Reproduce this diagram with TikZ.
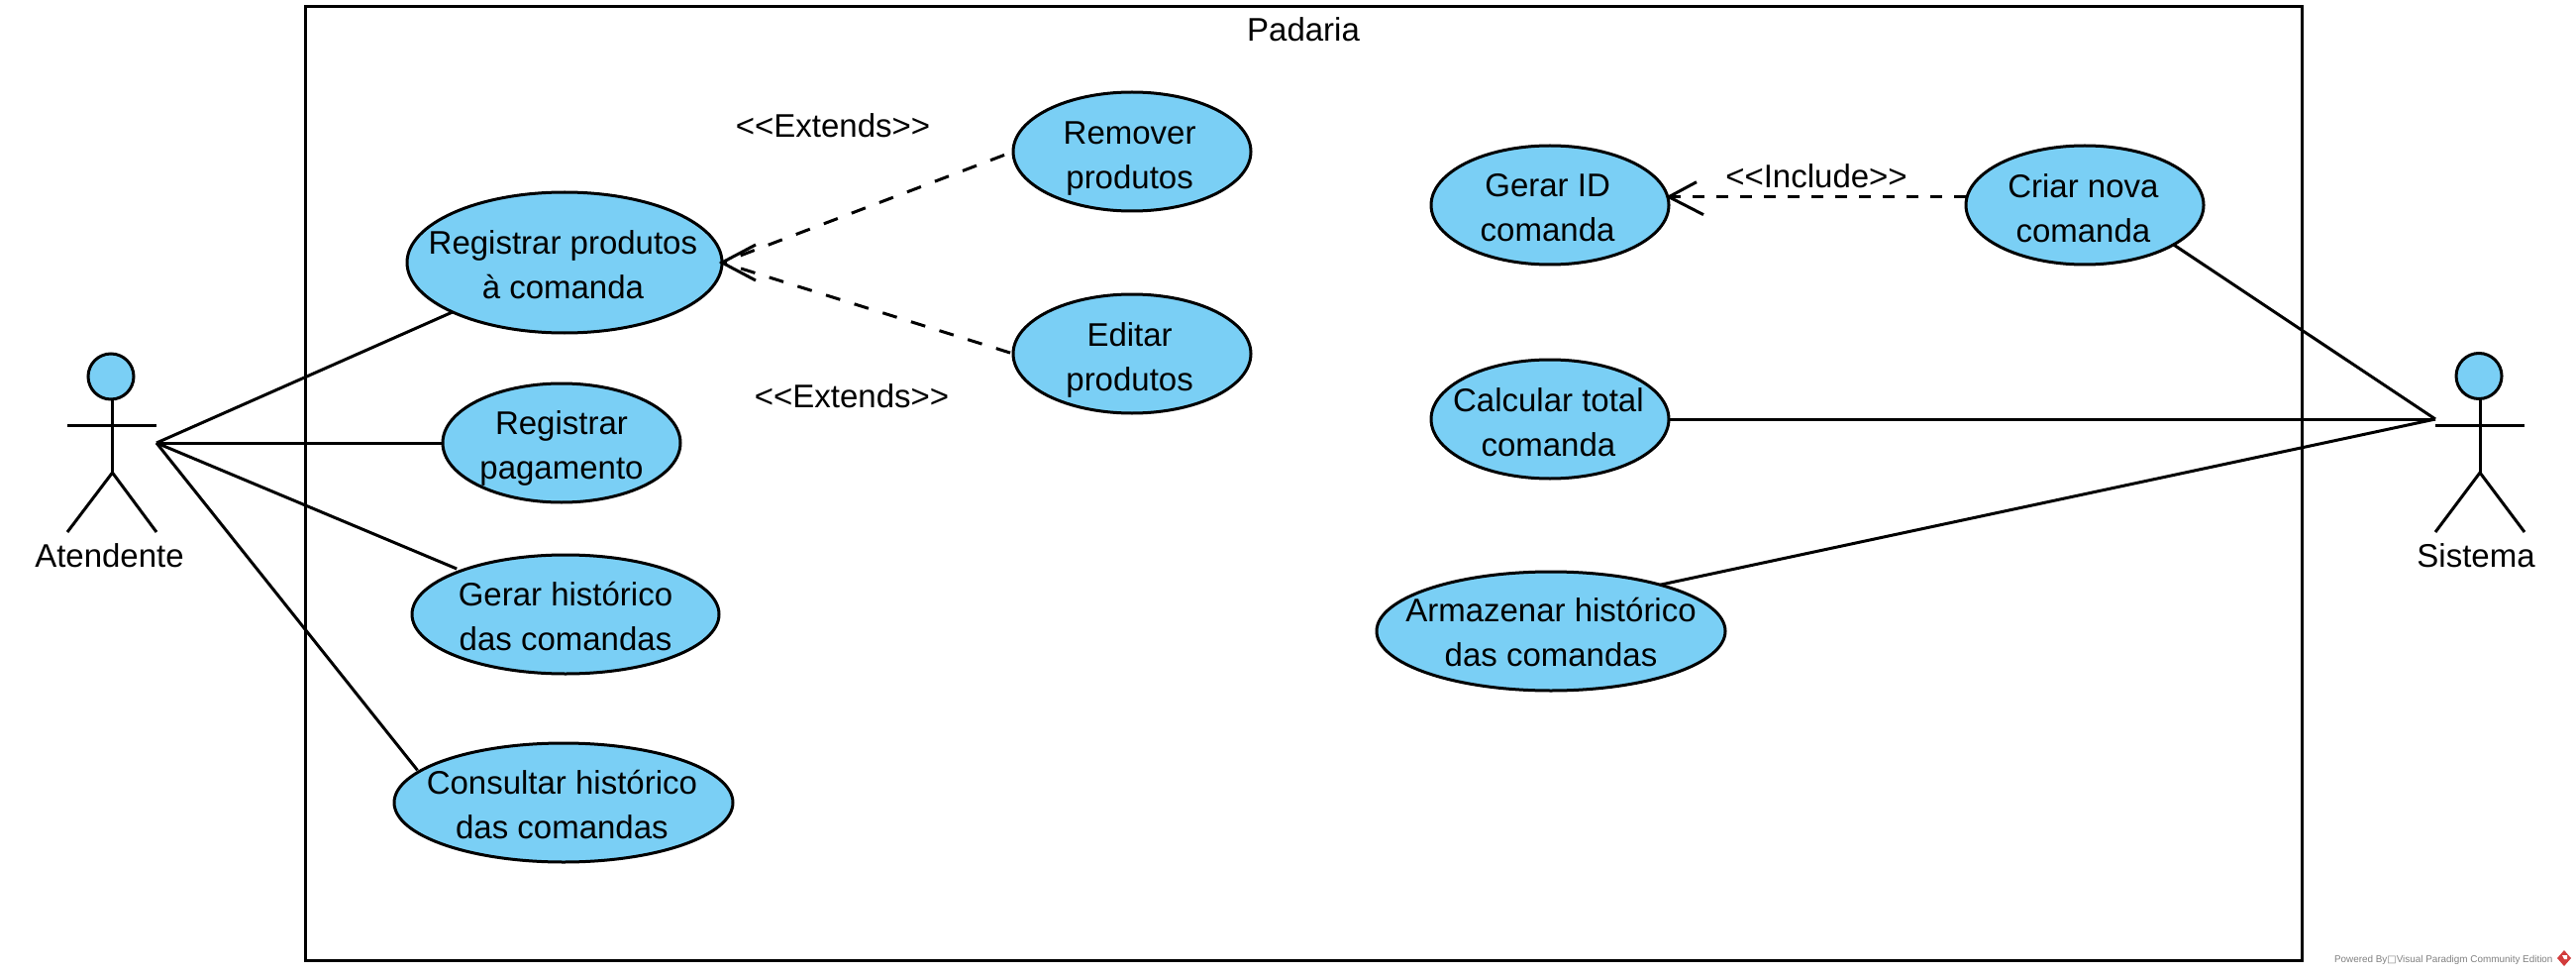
\documentclass[tikz,border=0pt]{standalone}
\usepackage{fontspec}
\setmainfont{Liberation Sans}
\newfontfamily\symfont{DejaVu Sans}
\usetikzlibrary{shapes.geometric}
\definecolor{ucblue}{RGB}{122,207,245}
\definecolor{vpred}{RGB}{210,60,60}
\tikzset{
  every label/.style={align=center,inner sep=0pt,outer sep=0pt,font=\fontsize{16.5}{22.5}\selectfont},
  ln/.style={draw=black,line width=1.5pt},
  uc/.style={ellipse,ln,fill=ucblue,inner sep=0pt,outer sep=0pt,minimum height=60pt,minimum width=#1},
  frame/.style={draw=black,line width=1.5pt},
  lbl/.style={inner sep=0pt,outer sep=0pt,align=center,font=\fontsize{16.5}{22.5}\selectfont},
  assoc/.style={ln},
  extdep/.style={ln,dash pattern=on 7.5pt off 7.5pt,dash phase=5pt},
  incdep/.style={ln,dash pattern=on 6pt off 6pt},
  head/.style={circle,ln,fill=ucblue,inner sep=0pt,outer sep=0pt,minimum size=23pt},
}
\begin{document}
\begin{tikzpicture}[x=0.5pt,y=-0.5pt]
\useasboundingbox (0,0) rectangle (2601,984);
% system frame
\node[rectangle,frame,inner sep=0pt,outer sep=0pt,minimum width=1008pt,minimum height=481pt,anchor=north west] (sys) at (308.5,7) {};
\node[lbl] (title) at (1316,30) {Padaria};
% use cases
\node[uc=159pt,minimum height=71pt,label={[xshift=-0.8pt,yshift=-1.2pt]center:Registrar produtos\\à comanda}] (rp) at (570,265) {};
\node[uc=120pt,label={[xshift=-1.2pt,yshift=-3.3pt]center:Remover\\produtos}] (rem) at (1143,153) {};
\node[uc=120pt,label={[xshift=-1.2pt,yshift=-3pt]center:Editar\\produtos}] (edi) at (1143,357) {};
\node[uc=120pt,label={[yshift=-2.7pt]center:Registrar\\pagamento}] (pag) at (567,447) {};
\node[uc=155pt,label={[yshift=-1.2pt]center:Gerar histórico\\das comandas}] (ger) at (571,620) {};
\node[uc=171pt,label={[xshift=-0.8pt,yshift=-1.2pt]center:Consultar histórico\\das comandas}] (con) at (569,810) {};
\node[uc=120pt,label={[xshift=-1.2pt,yshift=-1.5pt]center:Gerar ID\\comanda}] (gid) at (1565,207) {};
\node[uc=120pt,label={[xshift=-0.8pt,yshift=-1.5pt]center:Criar nova\\comanda}] (cri) at (2105,207) {};
\node[uc=120pt,label={[xshift=-0.8pt,yshift=-1.5pt]center:Calcular total\\comanda}] (cal) at (1565,423) {};
\node[uc=176pt,label={[yshift=-0.4pt]center:Armazenar histórico\\das comandas}] (arm) at (1566,637) {};
% stereotype labels
\node[lbl] (ext1) at (841,127) {<{}<Extends>{}>};
\node[lbl] (ext2) at (860,400) {<{}<Extends>{}>};
\node[lbl] (inc) at (1834,178) {<{}<Include>{}>};
% actor Atendente
\node[head] (h1) at (112,380) {};
\coordinate (a1) at (158,447);
\coordinate (hip1) at (113.5,477);
\draw[ln] (113.5,403) -- (hip1);
\draw[ln] (68,429) -- (158,429);
\draw[ln] (68,537) -- (hip1) -- (158,537);
\node[lbl] (at) at (110.5,561) {Atendente};
% actor Sistema
\node[head] (h2) at (2503,379.5) {};
\coordinate (a2) at (2459,423);
\coordinate (hip2) at (2504,477);
\draw[ln] (2504,402) -- (hip2);
\draw[ln] (2459,429) -- (2549,429);
\draw[ln] (2459,537) -- (hip2) -- (2549,537);
\node[lbl] (si) at (2500,561) {Sistema};
% associations
\draw[assoc] (a1) -- (rp);
\draw[assoc] (a1) -- (pag);
\draw[assoc,shorten >=2.5pt] (a1) -- (ger);
\draw[assoc,shorten >=1pt] (a1) -- (con.168.6);
\draw[assoc] (a2) -- (cri.-24);
\draw[assoc] (a2) -- (cal);
\draw[assoc] (a2) -- (arm.23.6);
% dependencies
\draw[extdep] (rp.east) -- (rem.west);
\draw[extdep] (rp.east) -- (edi.west);
\draw[ln] ([shift={(34,-18)}]rp.east) -- (rp.east) -- ([shift={(34,18)}]rp.east);
\coordinate (gtip) at (cri.176.3 -| gid.east);
\draw[incdep] (gtip) -- (cri.176.3);
\draw[ln] ([shift={(28,-15)}]gtip) -- (gtip) -- ([shift={(35,18)}]gtip);
% watermark
\node[inner sep=0pt,outer sep=0pt,anchor=base west,text=black!50,font=\fontsize{4.95}{6}\selectfont] (wm) at (2357,971) {Powered By{\symfont □}Visual Paradigm Community Edition};
\fill[vpred] (2589,959) -- (2596,967) -- (2589,975) -- (2582,967) -- cycle;
\fill[white] (2587,964) -- (2592,964) -- (2592,968) -- (2589,968) -- cycle;
\end{tikzpicture}
\end{document}
